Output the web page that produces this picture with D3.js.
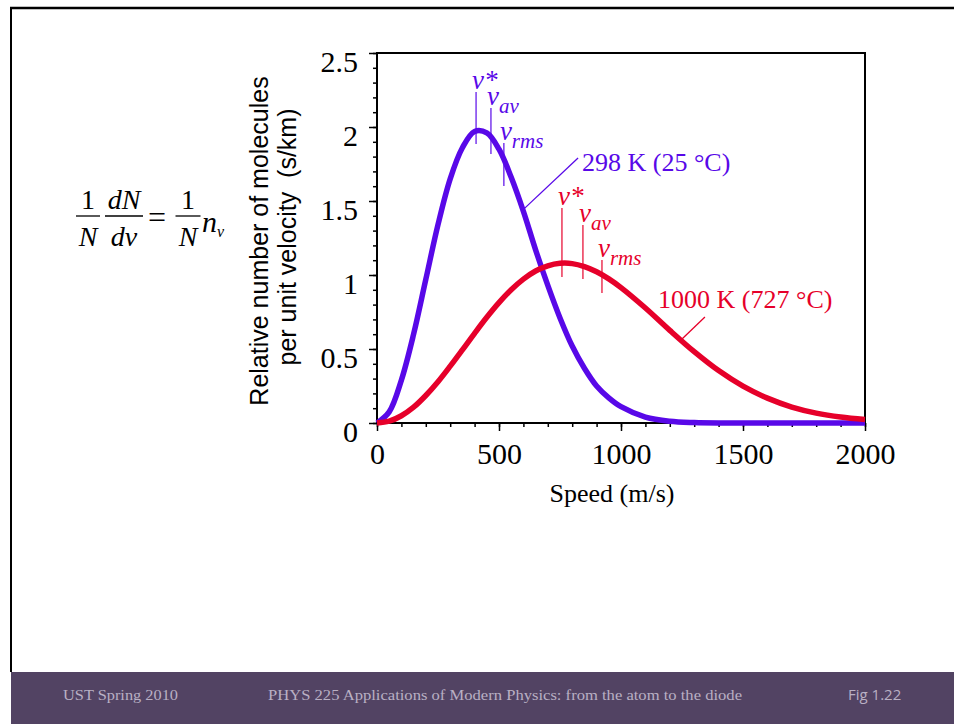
<!DOCTYPE html>
<html>
<head>
<meta charset="utf-8">
<script src="https://cdn.jsdelivr.net/npm/d3@7"></script>
<style>
  body { margin: 0; background: #fff; }
  svg { display: block; }
</style>
</head>
<body>
<div id="chart"></div>
<script>
// speeds in m/s, values in s/km
const speeds = [0, 50, 100, 150, 200, 250, 300, 350, 400, 450, 500, 550, 600, 650, 700, 750, 800, 850, 900, 950, 1000,
                1100, 1200, 1300, 1400, 1500, 1600, 1700, 1800, 1900, 2000];
const cold = [0, 0.075, 0.29, 0.60, 0.97, 1.34, 1.65, 1.86, 1.97, 1.96, 1.85, 1.66, 1.43, 1.17, 0.93, 0.71, 0.52, 0.37, 0.25, 0.17, 0.11,
              0.04, 0.012, 0.003, 0, 0, 0, 0, 0, 0, 0];
const hot = [0, 0.012, 0.049, 0.107, 0.186, 0.279, 0.384, 0.494, 0.606, 0.714, 0.813, 0.900, 0.972, 1.027, 1.062, 1.079, 1.077, 1.057, 1.022, 0.974, 0.915,
             0.777, 0.626, 0.482, 0.354, 0.249, 0.168, 0.108, 0.067, 0.040, 0.023];

const xTicks = [0, 500, 1000, 1500, 2000];
const yTicks = [0, 0.5, 1, 1.5, 2, 2.5];

// v*, v_av, v_rms markers
const markerNames = ['*', 'av', 'rms'];
const coldMarkers = [406, 467, 520];
const coldMarkerTop = [2.236, 2.128, 1.892];
const coldMarkerBottom = [1.885, 1.818, 1.601];
const hotMarkers = [758, 844, 922];
const hotMarkerTop = [1.453, 1.338, 1.101];
const hotMarkerBottom = [0.986, 0.973, 0.878];

const coldLabel = '298 K (25 °C)';
const hotLabel = '1000 K (727 °C)';

const blue = '#5808e8', red = '#e6002a';
const serif = '"Liberation Serif", "Times New Roman", serif';

const W = 954, H = 724;
const svg = d3.select('#chart').append('svg')
  .attr('width', W).attr('height', H);

// ### slide frame + footer
svg.append('line').attr('x1', 10).attr('y1', 8).attr('x2', W).attr('y2', 8)
  .attr('stroke', '#000').attr('stroke-width', 2.5);
svg.append('line').attr('x1', 11).attr('y1', 7).attr('x2', 11).attr('y2', 672)
  .attr('stroke', '#000').attr('stroke-width', 2);
svg.append('rect').attr('x', 11).attr('y', 672).attr('width', W - 11).attr('height', H - 672)
  .attr('fill', '#524363');

const footer = svg.append('g')
  .style('font-family', serif).style('font-size', '15px').attr('fill', '#b9b0c4');
footer.append('text').attr('x', 63).attr('y', 700).text('UST Spring 2010')
  .attr('textLength', 115).attr('lengthAdjust', 'spacingAndGlyphs');
footer.append('text').attr('x', 268).attr('y', 700)
  .text('PHYS 225 Applications of Modern Physics: from the atom to the diode')
  .attr('textLength', 474).attr('lengthAdjust', 'spacingAndGlyphs');
footer.append('text').attr('x', 848).attr('y', 700).text('Fig 1.22')
  .style('font-family', '"Open Sans", sans-serif').style('font-size', '15px');

// ### scales
const x = d3.scaleLinear().domain([0, 2000]).range([377, 865]);
const y = d3.scaleLinear().domain([0, 2.5]).range([423, 53]);

const plot = svg.append('g');

// minor ticks
plot.append('g')
  .attr('transform', `translate(${x(0)},0)`)
  .call(d3.axisLeft(y).tickValues(d3.range(0, 2.51, 0.1)).tickSize(4).tickFormat(''))
  .call(g => g.select('.domain').remove());
plot.append('g')
  .attr('transform', `translate(0,${y(0)})`)
  .call(d3.axisBottom(x).tickValues(d3.range(0, 2001, 100)).tickSize(4).tickFormat(''))
  .call(g => g.select('.domain').remove());

// major ticks
const yAxis = plot.append('g')
  .attr('transform', `translate(${x(0)},0)`)
  .call(d3.axisLeft(y).tickValues(yTicks).tickSize(8).tickPadding(11).tickFormat(d3.format('')))
  .call(g => g.select('.domain').remove());
yAxis.selectAll('text')
  .style('font-family', serif).style('font-size', '30px').attr('fill', '#000')
  .attr('dy', '0.62em');

const xAxis = plot.append('g')
  .attr('transform', `translate(0,${y(0)})`)
  .call(d3.axisBottom(x).tickValues(xTicks).tickSize(8).tickPadding(12).tickFormat(d3.format('')))
  .call(g => g.select('.domain').remove());
xAxis.selectAll('text')
  .style('font-family', serif).style('font-size', '30px').attr('fill', '#000');

plot.selectAll('.tick line').attr('stroke', '#000').attr('stroke-width', 1.5);

// frame
plot.append('rect')
  .attr('x', x(0)).attr('y', y(2.5))
  .attr('width', x(2000) - x(0)).attr('height', y(0) - y(2.5))
  .attr('fill', 'none').attr('stroke', '#000').attr('stroke-width', 2);

// ### curves
const line = d3.line()
  .x((d, i) => x(speeds[i]))
  .y(d => y(d))
  .curve(d3.curveCatmullRom.alpha(0.5));

plot.append('path').datum(cold)
  .attr('d', line).attr('fill', 'none')
  .attr('stroke', blue).attr('stroke-width', 5.5).attr('stroke-linejoin', 'round');
plot.append('path').datum(hot)
  .attr('d', line).attr('fill', 'none')
  .attr('stroke', red).attr('stroke-width', 5.5).attr('stroke-linejoin', 'round');

// ### speed markers
function markers(vals, tops, bottoms, color) {
  const g = plot.append('g').attr('fill', color).attr('stroke', color);
  vals.forEach((v, i) => {
    g.append('line')
      .attr('x1', x(v)).attr('x2', x(v))
      .attr('y1', y(tops[i])).attr('y2', y(bottoms[i]))
      .attr('stroke-width', 1.2);
    const t = g.append('text')
      .attr('x', x(v) - 4).attr('y', y(tops[i]) - 3)
      .attr('stroke', 'none')
      .style('font-family', serif).style('font-style', 'italic').style('font-size', '27px');
    if (markerNames[i] === '*') {
      t.text('v*');
    } else {
      t.append('tspan').text('v');
      t.append('tspan').attr('dy', 8).style('font-size', '21px').text(markerNames[i]);
    }
  });
}
markers(coldMarkers, coldMarkerTop, coldMarkerBottom, blue);
markers(hotMarkers, hotMarkerTop, hotMarkerBottom, red);

// ### temperature labels with leaders
plot.append('line')
  .attr('x1', x(824)).attr('y1', y(1.79)).attr('x2', x(598)).attr('y2', y(1.44))
  .attr('stroke', blue).attr('stroke-width', 1.3);
plot.append('text').attr('x', x(840)).attr('y', y(1.70))
  .attr('fill', blue).style('font-family', serif).style('font-size', '26px')
  .text(coldLabel);

plot.append('line')
  .attr('x1', x(1344)).attr('y1', y(0.716)).attr('x2', x(1250)).attr('y2', y(0.568))
  .attr('stroke', red).attr('stroke-width', 1.3);
plot.append('text').attr('x', x(1152)).attr('y', y(0.777))
  .attr('fill', red).style('font-family', serif).style('font-size', '26px')
  .text(hotLabel);

// ### axis titles
svg.append('text')
  .attr('x', 612).attr('y', 502).attr('text-anchor', 'middle')
  .style('font-family', serif).style('font-size', '26px')
  .text('Speed (m/s)');

const yTitle = svg.append('g')
  .attr('transform', 'rotate(-90)')
  .style('font-family', '"Liberation Sans", Arial, sans-serif').style('font-size', '25px')
  .attr('text-anchor', 'middle');
yTitle.append('text').attr('x', -241).attr('y', 268).text('Relative number of molecules');
yTitle.append('text').attr('x', -237).attr('y', 296).attr('xml:space', 'preserve')
  .style('white-space', 'pre').text('per unit velocity  (s/km)');

// ### formula on the left
const eq = svg.append('g')
  .style('font-family', serif).style('font-size', '28px').attr('text-anchor', 'middle');
function frac(cx, w, num, den, numItalic) {
  eq.append('text').attr('x', cx).attr('y', 209)
    .style('font-style', numItalic ? 'italic' : 'normal').text(num);
  eq.append('text').attr('x', cx).attr('y', 246)
    .style('font-style', 'italic').text(den);
  eq.append('line').attr('x1', cx - w / 2).attr('x2', cx + w / 2)
    .attr('y1', 216).attr('y2', 216).attr('stroke', '#000').attr('stroke-width', 1.3);
}
frac(88, 24, '1', 'N', false);
frac(124, 38, 'dN', 'dv', true);
eq.append('text').attr('x', 157).attr('y', 228).style('font-size', '32px').text('=');
frac(188, 25, '1', 'N', false);
const nv = eq.append('text').attr('x', 202).attr('y', 232)
  .attr('text-anchor', 'start').style('font-style', 'italic').style('font-size', '30px');
nv.append('tspan').text('n');
nv.append('tspan').attr('dy', 5).style('font-size', '16px').text('v');
</script>
</body>
</html>
